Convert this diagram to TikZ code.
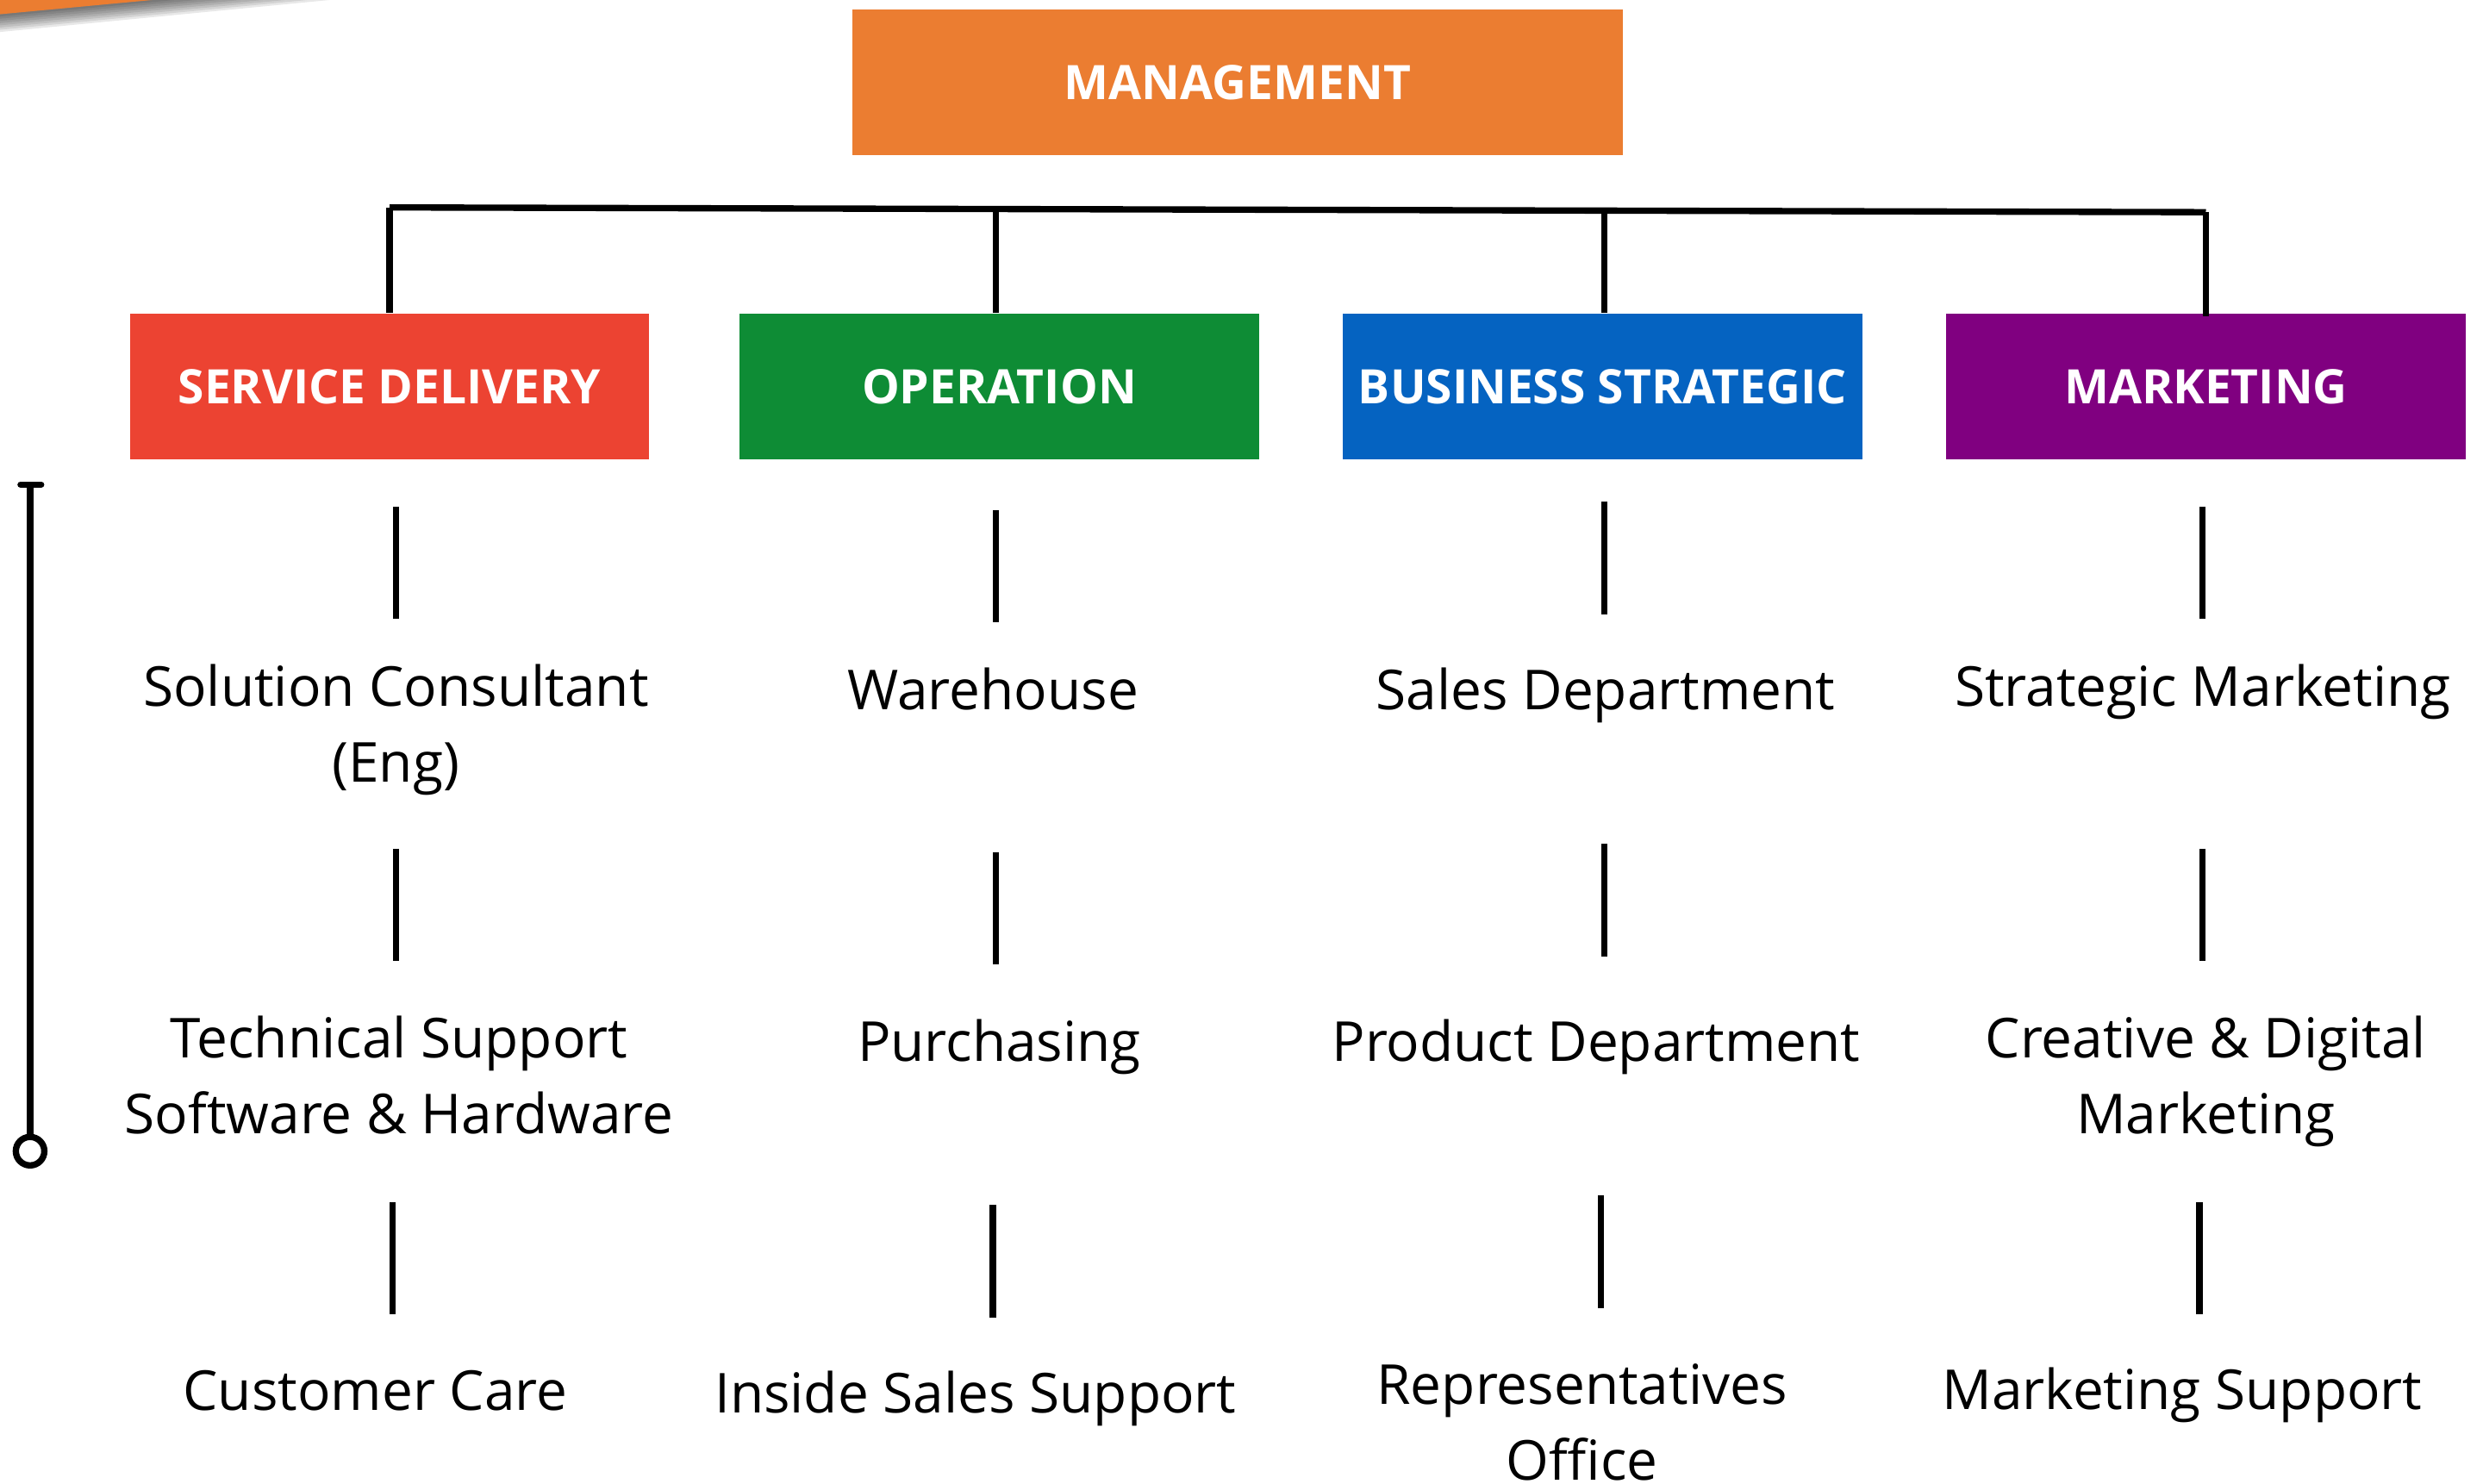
\documentclass[tikz,border=0pt]{standalone}
\usepackage{fontspec}
\setmainfont{Open Sans}
\usepackage{tikz}
\usetikzlibrary{shapes}

\definecolor{mgmtorange}{HTML}{EB7D31}
\definecolor{sdred}{HTML}{EC4332}
\definecolor{opgreen}{HTML}{0E8C35}
\definecolor{bsblue}{HTML}{0563C1}
\definecolor{mkpurple}{HTML}{800080}

\begin{document}
\begin{tikzpicture}[x=0.5pt,y=-0.5pt]
\tikzstyle{every node}=[inner sep=0pt]
\tikzstyle{head}=[rectangle,minimum width=164pt,minimum height=46pt,text=white,
font=\bfseries\fontsize{15}{18}\selectfont]
\tikzstyle{unit}=[align=center,font=\fontsize{17.4}{24}\selectfont]
\tikzstyle{link}=[line width=2pt]
\useasboundingbox (0,0) rectangle (1568,937);

% corner
\foreach \i in {1,...,8}
	\fill[black,opacity=0.09] (0,0) -- (96+\i*14,0) -- (0,9+\i*1.4) -- cycle;
\fill[mgmtorange] (0,0) -- (96,0) -- (0,9) -- cycle;

\node[head,fill=mgmtorange,minimum width=243.5pt] (mgmt) at (781.5,52) {MANAGEMENT};

\node[head,fill=sdred] (sd) at (246,244) {SERVICE DELIVERY};
\node[head,fill=opgreen] (op) at (631,244) {OPERATION};
\node[head,fill=bsblue] (bs) at (1012,244) {BUSINESS STRATEGIC};
\node[head,fill=mkpurple] (mk) at (1393,244) {MARKETING};

\coordinate (barL) at (246,131);
\coordinate (barR) at (1393,134);
\draw[link] (barL) -- (barR);
\draw[link] (sd.north) -- (sd.north |- barL);
\draw[link] (op.north -| 629,0) -- (629,132);
\draw[link] (bs.north -| 1013,0) -- (1013,133);
\draw[link] ([yshift=-1pt]mk.north) -- (barR);

\node[unit] (sd1) at (250,461) {Solution Consultant\\(Eng)};
\node[unit] (sd2) at (252,679) {Technical Support\\Software \& Hardware};
\node[unit] (sd3) at (237,878) {Customer Care};
\node[unit] (op1) at (627,435) {Warehouse};
\node[unit] (op2) at (631,661) {Purchasing};
\node[unit] (op3) at (616,883) {Inside Sales Support};
\node[unit] (bs1) at (1014,439) {Sales Department};
\node[unit] (bs2) at (1008,661) {Product Department};
\node[unit] (bs3) at (999,898) {Representatives\\Office};
\node[unit] (mk1) at (1391,437) {Strategic Marketing};
\node[unit] (mk2) at (1393,683) {Creative \& Digital\\Marketing};
\node[unit] (mk3) at (1378,881) {Marketing Support};

\foreach \x/\a/\b in {250/320/391,250/536/607,248/759/830,
	629/322/393,629/538/609,627/761/832,
	1013/317/388,1013/533/604,1011/755/826,
	1391/320/391,1391/536/607,1389/759/830}
	\draw[link] (\x,\a) -- (\x,\b);

% side line
\coordinate (tltop) at (19,306);
\node[circle,draw,fill=white,line width=2pt,minimum size=9pt] (tldot) at (19,727) {};
\draw[link,line cap=round] (13,306) -- (26,306);
\draw[link] (tltop) -- (tldot.north);
\end{tikzpicture}
\end{document}
